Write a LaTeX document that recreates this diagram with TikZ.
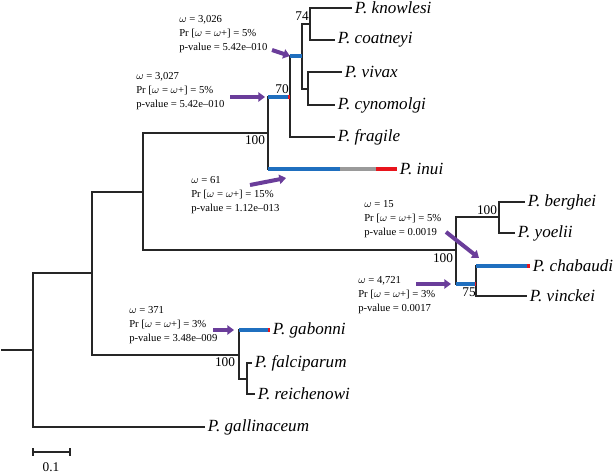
\documentclass[tikz,border=0pt]{standalone}
\usepackage{fontspec}
\setmainfont{Liberation Serif}
\usetikzlibrary{arrows.meta}
\definecolor{selblue}{HTML}{1F6FBF}
\definecolor{selred}{HTML}{E8141C}
\definecolor{selgrey}{HTML}{9A9A9A}
\definecolor{arrpurple}{HTML}{6A3D9A}
\tikzset{
  branch/.style={line width=0.8pt,black!85},
  sel/.style={line width=3pt},
  taxon/.style={anchor=west,inner sep=2pt,font=\fontsize{12.8}{14}\selectfont\itshape},
  boot/.style={inner sep=1pt,font=\fontsize{10}{11}\selectfont},
  note/.style={anchor=north west,align=left,inner sep=0pt,font=\fontsize{8}{10.5}\selectfont},
  hit/.style={line width=3pt,arrpurple,-{Triangle[length=5pt,width=7pt]}}
}
\begin{document}
\begin{tikzpicture}[x=0.75pt,y=-0.75pt]
\useasboundingbox (0,0) rectangle (614,474);
% internal nodes
\coordinate (r0) at (1,350);
\coordinate (root) at (33,350);
\coordinate (nA) at (92,273);
\coordinate (nB) at (143,192);
\coordinate (nC) at (268,133);
\coordinate (nD) at (290,97);
\coordinate (nE) at (302,56);
\coordinate (nF) at (310,24);
\coordinate (nG) at (308,89);
\coordinate (nR) at (456,250);
\coordinate (nS) at (499,217);
\coordinate (nT) at (476,284);
\coordinate (nP) at (239,355);
\coordinate (nQ) at (247,379);
% leaves
\node[taxon] (knowlesi) at (352,8) {P. knowlesi};
\node[taxon] (coatneyi) at (335,40) {P. coatneyi};
\node[taxon] (vivax) at (342,72) {P. vivax};
\node[taxon] (cynomolgi) at (335,105) {P. cynomolgi};
\node[taxon] (fragile) at (335,137) {P. fragile};
\node[taxon] (inui) at (397,169) {P. inui};
\node[taxon] (berghei) at (525,202) {P. berghei};
\node[taxon] (yoelii) at (515,233) {P. yoelii};
\node[taxon] (chabaudi) at (530,266) {P. chabaudi};
\node[taxon] (vinckei) at (527,296) {P. vinckei};
\node[taxon] (gabonni) at (270,330) {P. gabonni};
\node[taxon] (falciparum) at (252,363) {P. falciparum};
\node[taxon] (reichenowi) at (255,394) {P. reichenowi};
\node[taxon] (gallinaceum) at (205,427) {P. gallinaceum};
% branches
\draw[branch] (r0) -- (root);
\draw[branch] (root) |- (nA);
\draw[branch] (root) |- (gallinaceum.west);
\draw[branch] (nA) |- (nB);
\draw[branch] (nA) |- (nP);
\draw[branch] (nB) |- (nC);
\draw[branch] (nB) |- (nR);
\draw[branch] (nC) |- (nD);
\draw[branch] (nC) |- (inui.west);
\draw[branch] (nD) |- (nE);
\draw[branch] (nD) |- (fragile.west);
\draw[branch] (nE) |- (nF);
\draw[branch] (nE) |- (nG);
\draw[branch] (nF) |- (knowlesi.west);
\draw[branch] (nF) |- (coatneyi.west);
\draw[branch] (nG) |- (vivax.west);
\draw[branch] (nG) |- (cynomolgi.west);
\draw[branch] (nR) |- (nS);
\draw[branch] (nR) |- (nT);
\draw[branch] (nS) |- (berghei.west);
\draw[branch] (nS) |- (yoelii.west);
\draw[branch] (nT) |- (chabaudi.west);
\draw[branch] (nT) |- (vinckei.west);
\draw[branch] (nP) |- (gabonni.west);
\draw[branch] (nP) |- (nQ);
\draw[branch] (nQ) |- (falciparum.west);
\draw[branch] (nQ) |- (reichenowi.west);
% selected branches
\draw[sel,selblue] (nC |- nD) -- ++(20,0);
\draw[sel,selred] (nC |- nD) ++(20,0) -- (nD);
\draw[sel,selblue] (nD |- nE) -- (nE);
\draw[sel,selblue] (nC |- inui) -- ++(72,0);
\draw[sel,selgrey] (nC |- inui) ++(72,0) -- ++(36,0);
\draw[sel,selred] (nC |- inui) ++(108,0) -- (inui.west);
\draw[sel,selblue] (nR |- nT) -- ++(19,0);
\draw[sel,selred] (nR |- nT) ++(19,0) -- (nT);
\draw[sel,selblue] (nT |- chabaudi) -- ++(51,0);
\draw[sel,selred] (nT |- chabaudi) ++(51,0) -- (chabaudi.west);
\draw[sel,selblue] (nP |- gabonni) -- ++(29,0);
\draw[sel,selred] (nP |- gabonni) ++(29,0) -- (gabonni.west);
% bootstrap values
\node[boot] (b74) at (302,16) {74};
\node[boot] (b70) at (282,89) {70};
\node[boot] (b100a) at (255,140) {100};
\node[boot] (b100b) at (443,258) {100};
\node[boot] (b100c) at (487,210) {100};
\node[boot] (b75) at (469,292) {75};
\node[boot] (b100d) at (225,362) {100};
% annotations
\node[note] (w1) at (179,15) {$\omega$ = 3,026\\Pr [$\omega$ = $\omega$+] = 5\%\\p-value = 5.42e--010};
\node[note] (w2) at (136,72) {$\omega$ = 3,027\\Pr [$\omega$ = $\omega$+] = 5\%\\p-value = 5.42e--010};
\node[note] (w3) at (191,176) {$\omega$ = 61\\Pr [$\omega$ = $\omega$+] = 15\%\\p-value = 1.12e--013};
\node[note] (w4) at (364,200) {$\omega$ = 15\\Pr [$\omega$ = $\omega$+] = 5\%\\p-value = 0.0019};
\node[note] (w5) at (358,276) {$\omega$ = 4,721\\Pr [$\omega$ = $\omega$+] = 3\%\\p-value = 0.0017};
\node[note] (w6) at (129,306) {$\omega$ = 371\\Pr [$\omega$ = $\omega$+] = 3\%\\p-value = 3.48e--009};
% arrows
\coordinate (h1) at (290,56);
\coordinate (h2) at (265,97);
\coordinate (h3) at (286,178);
\coordinate (h4) at (479,258);
\coordinate (h5) at (451,284);
\coordinate (h6) at (234,330);
\draw[hit] (272,50) -- (h1);
\draw[hit] (230,97) -- (h2);
\draw[hit] (250,185) -- (h3);
\draw[hit] (446,232) -- (h4);
\draw[hit] (416,284) -- (h5);
\draw[hit] (213,330) -- (h6);
% scale bar
\coordinate (s0) at (33,452);
\coordinate (s1) at (70,452);
\draw[branch] (s0) -- (s1);
\draw[branch] (s0) ++(0,-4) -- ++(0,8);
\draw[branch] (s1) ++(0,-4) -- ++(0,8);
\node[boot] (sl) at (51,467) {0.1};
\end{tikzpicture}
\end{document}
